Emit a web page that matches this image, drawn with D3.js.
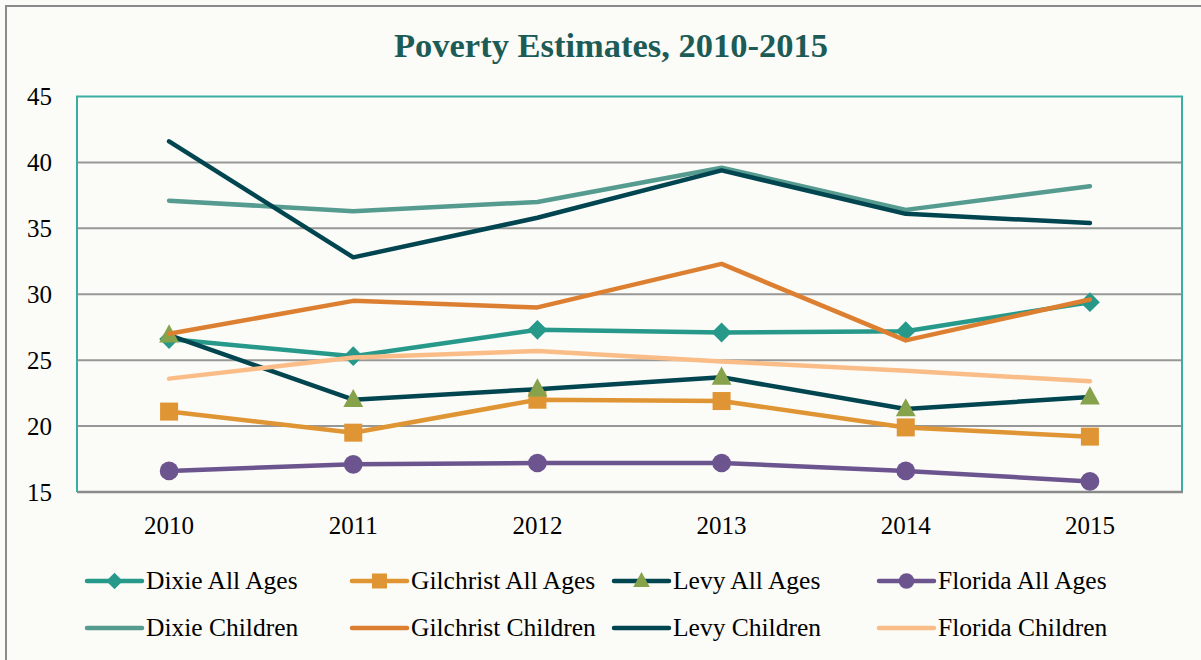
<!DOCTYPE html>
<html>
<head>
<meta charset="utf-8">
<script src="https://cdn.jsdelivr.net/npm/d3@7"></script>
<style>
  html, body { margin: 0; padding: 0; background: #fbfbf7; }
  svg { display: block; }
</style>
</head>
<body>
<svg id="chart"></svg>
<script>
//Data
const years = [2010, 2011, 2012, 2013, 2014, 2015];
const yTicks = [15, 20, 25, 30, 35, 40, 45];

const dixieAll = [26.6, 25.3, 27.3, 27.1, 27.2, 29.4];
const gilchristAll = [21.1, 19.5, 22.0, 21.9, 19.9, 19.2];
const levyAll = [26.9, 22.0, 22.8, 23.7, 21.3, 22.2];
const floridaAll = [16.6, 17.1, 17.2, 17.2, 16.6, 15.8];
const dixieChildren = [37.1, 36.3, 37.0, 39.6, 36.4, 38.2];
const gilchristChildren = [27.0, 29.5, 29.0, 32.3, 26.5, 29.6];
const levyChildren = [41.6, 32.8, 35.8, 39.4, 36.1, 35.4];
const floridaChildren = [23.6, 25.2, 25.7, 24.9, 24.2, 23.4];

const seriesNames = ['Dixie All Ages', 'Gilchrist All Ages', 'Levy All Ages', 'Florida All Ages',
    'Dixie Children', 'Gilchrist Children', 'Levy Children', 'Florida Children'];
const seriesValues = [dixieAll, gilchristAll, levyAll, floridaAll,
    dixieChildren, gilchristChildren, levyChildren, floridaChildren];
const lineColors = ['#26998b', '#e09534', '#00454f', '#6c548f',
    '#559b8f', '#dc7f30', '#004550', '#fbbd88'];
const markerColors = ['#26998b', '#e09534', '#86a24b', '#6c548f', null, null, null, null];
const markerTypes = ['diamond', 'square', 'triangle', 'circle', null, null, null, null];

//Layout
const width = 1201, height = 660;
const plot = {left: 77, right: 1182, top: 96.5, bottom: 492};
const font = '"Liberation Serif", "DejaVu Serif", serif';

const svg = d3.select('#chart')
    .attr('width', width)
    .attr('height', height);

// outer chart border
svg.append('rect')
    .attr('x', 6).attr('y', 6)
    .attr('width', width + 20).attr('height', height + 20)
    .attr('fill', '#fbfbf7')
    .attr('stroke', '#8a8a8a')
    .attr('stroke-width', 2);

svg.append('text')
    .attr('x', 611)
    .attr('y', 57)
    .attr('text-anchor', 'middle')
    .attr('font-family', font)
    .attr('font-weight', 'bold')
    .attr('font-size', 34.5)
    .attr('fill', '#1d5c56')
    .text('Poverty Estimates, 2010-2015');

const x = d3.scaleBand()
    .domain(years)
    .range([plot.left, plot.right]);

const y = d3.scaleLinear()
    .domain([15, 45])
    .range([plot.bottom, plot.top]);

// gridlines
svg.append('g')
    .selectAll('line')
    .data(yTicks.filter(d => d > 15 && d < 45))
    .enter().append('line')
    .attr('x1', plot.left).attr('x2', plot.right)
    .attr('y1', d => y(d)).attr('y2', d => y(d))
    .attr('stroke', '#979797')
    .attr('stroke-width', 2);

// plot border: teal top/left/right, grey bottom axis
svg.append('path')
    .attr('d', `M${plot.left},${plot.bottom}V${plot.top}H${plot.right}V${plot.bottom}`)
    .attr('fill', 'none')
    .attr('stroke', '#3aaea1')
    .attr('stroke-width', 2);

svg.append('line')
    .attr('x1', plot.left).attr('x2', plot.right + 1)
    .attr('y1', plot.bottom).attr('y2', plot.bottom)
    .attr('stroke', '#8a8a8a')
    .attr('stroke-width', 2.5);

// axes
const yAxis = svg.append('g')
    .attr('transform', `translate(${plot.left - 25},0)`)
    .call(d3.axisLeft(y).tickValues(yTicks).tickSize(0).tickPadding(0));
yAxis.select('.domain').remove();
yAxis.selectAll('text')
    .attr('font-family', font)
    .attr('font-size', 25)
    .attr('fill', '#000');

const xAxis = svg.append('g')
    .attr('transform', `translate(0,${plot.bottom})`)
    .call(d3.axisBottom(x).tickSize(0).tickPadding(24));
xAxis.select('.domain').remove();
xAxis.selectAll('text')
    .attr('font-family', font)
    .attr('font-size', 25)
    .attr('fill', '#000');

const cx = d => x(d) + x.bandwidth() / 2;

const line = d3.line()
    .x((d, i) => cx(years[i]))
    .y(d => y(d));

function marker(sel, type, size, color) {
    if (type === 'circle') {
        sel.append('circle').attr('r', size * 0.52).attr('fill', color);
    } else if (type === 'square') {
        sel.append('rect')
            .attr('x', -size / 2).attr('y', -size / 2)
            .attr('width', size).attr('height', size)
            .attr('fill', color);
    } else if (type === 'diamond') {
        const h = size * 0.55;
        sel.append('path')
            .attr('d', `M0,${-h}L${h},0L0,${h}L${-h},0Z`)
            .attr('fill', color);
    } else if (type === 'triangle') {
        const h = size * 0.6;
        sel.append('path')
            .attr('d', `M0,${-h}L${h * 0.92},${h * 0.68}L${-h * 0.92},${h * 0.68}Z`)
            .attr('fill', color);
    }
}

const seriesGroup = svg.append('g');
seriesValues.forEach((vals, s) => {
    const g = seriesGroup.append('g');
    g.append('path')
        .datum(vals)
        .attr('d', line)
        .attr('fill', 'none')
        .attr('stroke', lineColors[s])
        .attr('stroke-width', 4.5)
        .attr('stroke-linejoin', 'round')
        .attr('stroke-linecap', 'round');
    if (markerTypes[s]) {
        vals.forEach((v, i) => {
            const m = g.append('g').attr('transform', `translate(${cx(years[i])},${y(v)})`);
            marker(m, markerTypes[s], 18, markerColors[s]);
        });
    }
});

// legend
const legendX = [87, 352, 614, 879];
const legendY = [581, 628];
const legend = svg.append('g');
seriesNames.forEach((name, s) => {
    const lx = legendX[s % 4], ly = legendY[Math.floor(s / 4)];
    const item = legend.append('g').attr('transform', `translate(${lx},${ly})`);
    item.append('line')
        .attr('x1', 0).attr('x2', 55)
        .attr('stroke', lineColors[s])
        .attr('stroke-width', 4.5)
        .attr('stroke-linecap', 'round');
    if (markerTypes[s]) {
        const m = item.append('g').attr('transform', 'translate(27.5,0)');
        marker(m, markerTypes[s], 15, markerColors[s]);
    }
    item.append('text')
        .attr('x', 59)
        .attr('y', 8)
        .attr('font-family', font)
        .attr('font-size', 25.5)
        .attr('fill', '#000')
        .text(name);
});
</script>
</body>
</html>
